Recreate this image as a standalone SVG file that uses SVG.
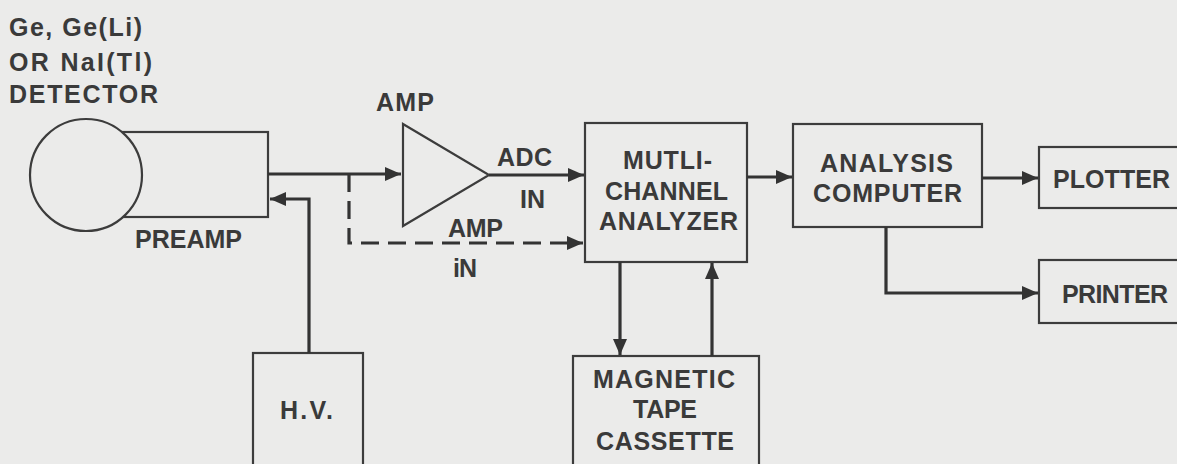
<svg xmlns="http://www.w3.org/2000/svg" width="1177" height="464" viewBox="0 0 1177 464">
<defs>
<style>
.bg{fill:#ebebea}
.box{fill:#ebebea;stroke:#3c3c3c;stroke-width:2.2}
.t{font-family:"Liberation Sans",Arial,sans-serif;font-weight:bold;font-size:25px;fill:#3a3a3a}
.m{text-anchor:middle}
.c{fill:none;stroke:#333;stroke-width:3.2}
.d{fill:none;stroke:#333;stroke-width:3.2;stroke-dasharray:18 9}
</style>
<marker id="ah" markerUnits="userSpaceOnUse" markerWidth="18" markerHeight="16" refX="16" refY="8" orient="auto">
<path d="M0,1 L16,8 L0,15 Z" fill="#333"/>
</marker>
</defs>
<rect class="bg" x="0" y="0" width="1177" height="464"/>

<g id="detector-label">
<text class="t" x="9" y="36" textLength="133" lengthAdjust="spacing">Ge, Ge(Li)</text>
<text class="t" x="9" y="71" textLength="143" lengthAdjust="spacing">OR NaI(Tl)</text>
<text class="t" x="9" y="103" textLength="149" lengthAdjust="spacing">DETECTOR</text>
</g>

<g id="preamp">
<rect class="box" x="110" y="132" width="158" height="85"/>
<circle class="box" cx="86" cy="175" r="56"/>
<text class="t" x="135" y="248" textLength="107" lengthAdjust="spacing">PREAMP</text>
</g>

<g id="amp">
<polygon class="box" points="403,124 489,175 403,226"/>
<text class="t" x="376" y="111" textLength="58" lengthAdjust="spacing">AMP</text>
</g>

<g id="hv">
<rect class="box" x="253" y="353" width="110" height="120"/>
<text class="t" x="280" y="419" textLength="53" lengthAdjust="spacing">H.V.</text>
</g>

<g id="mca">
<rect class="box" x="585" y="123" width="162" height="139"/>
<text class="t" x="623" y="169" textLength="89" lengthAdjust="spacing">MUTLI-</text>
<text class="t" x="605" y="200" textLength="123" lengthAdjust="spacing">CHANNEL</text>
<text class="t" x="599" y="230" textLength="139" lengthAdjust="spacing">ANALYZER</text>
</g>

<g id="tape">
<rect class="box" x="573" y="356" width="186" height="120"/>
<text class="t" x="593" y="388" textLength="142" lengthAdjust="spacing">MAGNETIC</text>
<text class="t" x="633" y="418" textLength="64" lengthAdjust="spacing">TAPE</text>
<text class="t" x="596" y="450" textLength="138" lengthAdjust="spacing">CASSETTE</text>
</g>

<g id="computer">
<rect class="box" x="793" y="124" width="189" height="103"/>
<text class="t" x="820" y="172" textLength="133" lengthAdjust="spacing">ANALYSIS</text>
<text class="t" x="813" y="202" textLength="149" lengthAdjust="spacing">COMPUTER</text>
</g>

<g id="plotter">
<rect class="box" x="1039" y="147" width="145" height="61"/>
<text class="t" x="1053" y="188" textLength="117" lengthAdjust="spacing">PLOTTER</text>
</g>

<g id="printer">
<rect class="box" x="1039" y="260" width="145" height="63"/>
<text class="t" x="1062" y="303" textLength="106" lengthAdjust="spacing">PRINTER</text>
</g>

<g id="connectors">
<path class="c" d="M268,174 L401,174" marker-end="url(#ah)"/>
<path class="c" d="M309,353 L309,199 L270,199" marker-end="url(#ah)"/>
<path class="d" d="M349,174 L349,243 L583,243" marker-end="url(#ah)"/>
<path class="c" d="M489,175 L584,175" marker-end="url(#ah)"/>
<path class="c" d="M747,177 L792,177" marker-end="url(#ah)"/>
<path class="c" d="M620,262 L620,355" marker-end="url(#ah)"/>
<path class="c" d="M712,356 L712,263" marker-end="url(#ah)"/>
<path class="c" d="M982,178 L1038,178" marker-end="url(#ah)"/>
<path class="c" d="M886,227 L886,293 L1038,293" marker-end="url(#ah)"/>
<text class="t" x="497" y="166" textLength="55" lengthAdjust="spacing">ADC</text>
<text class="t" x="520" y="208" textLength="25" lengthAdjust="spacing">IN</text>
<text class="t" x="448" y="237" textLength="55" lengthAdjust="spacing">AMP</text>
<text class="t" x="453" y="277" textLength="24" lengthAdjust="spacing">iN</text>
</g>
</svg>
